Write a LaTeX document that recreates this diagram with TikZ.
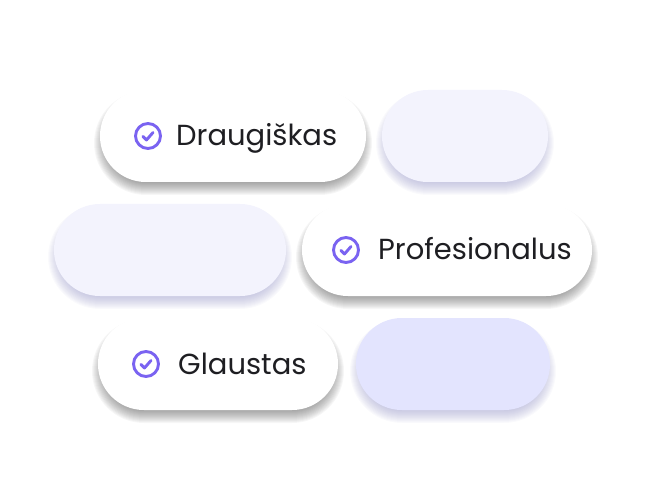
\documentclass[tikz,border=0pt]{standalone}
\usepackage{fontspec}
\setmainfont{Poppins}
\usepackage{tikz}
\usetikzlibrary{calc}
\definecolor{checkviolet}{HTML}{7A63F1}
\definecolor{palepill}{HTML}{F3F3FD}
\definecolor{bluepill}{HTML}{E3E4FE}
\definecolor{inktext}{HTML}{1E1E22}
\definecolor{shadowgrey}{HTML}{3A3A3A}
\definecolor{shadowblue}{HTML}{8A8AC0}
\tikzset{
  pill/.style={inner sep=0pt,minimum height=92pt,rounded corners=45.9pt},
  label/.style={inner sep=0pt,anchor=base west,text=inktext,font=\fontsize{29}{29}\selectfont},
  tick/.style={draw=checkviolet,line width=2.9pt,circle,inner sep=0pt,minimum size=25pt},
}
\begin{document}
\begin{tikzpicture}[x=1pt,y=-1pt]
      \useasboundingbox (0,0) rectangle (646,500);

      % pale pills: x, y, width, shadow, fill, name
      \foreach \x/\y/\w/\sh/\f/\n in {465/136/166/shadowblue/palepill/blank1,170/250/232/shadowblue/palepill/blank2,453/364/194/shadowblue/bluepill/blank3,233/136/266/shadowgrey/white/pill1,447/250/290/shadowgrey/white/pill2,218/364/240/shadowgrey/white/pill3}{
        \foreach \i in {-12,-10,...,12}{
          \node[pill,fill=\sh,fill opacity=.045,minimum width=\w pt+\i pt,minimum height=92pt+\i pt,rounded corners=46pt+.5*\i pt] at (\x,\y+7) {};
        }
        \node[pill,fill=\f,minimum width=\w pt] (\n) at (\x,\y) {};
      }

      \foreach \n/\x/\y/\t/\tx in {pill1/148/136/Draugiškas/176,pill2/346/250/Profesionalus/378,pill3/146/364/Glaustas/178}{
        \node[tick] (icon\n) at (\x,\y) {};
        \draw[checkviolet,line width=2.9pt,line cap=round,line join=round] ($(icon\n)+(-5,.5)$) -- ($(icon\n)+(-1.5,4)$) -- ($(icon\n)+(5,-3.5)$);
        \node[label] (text\n) at (\tx,\y+10) {\t};
      }
\end{tikzpicture}
\end{document}
